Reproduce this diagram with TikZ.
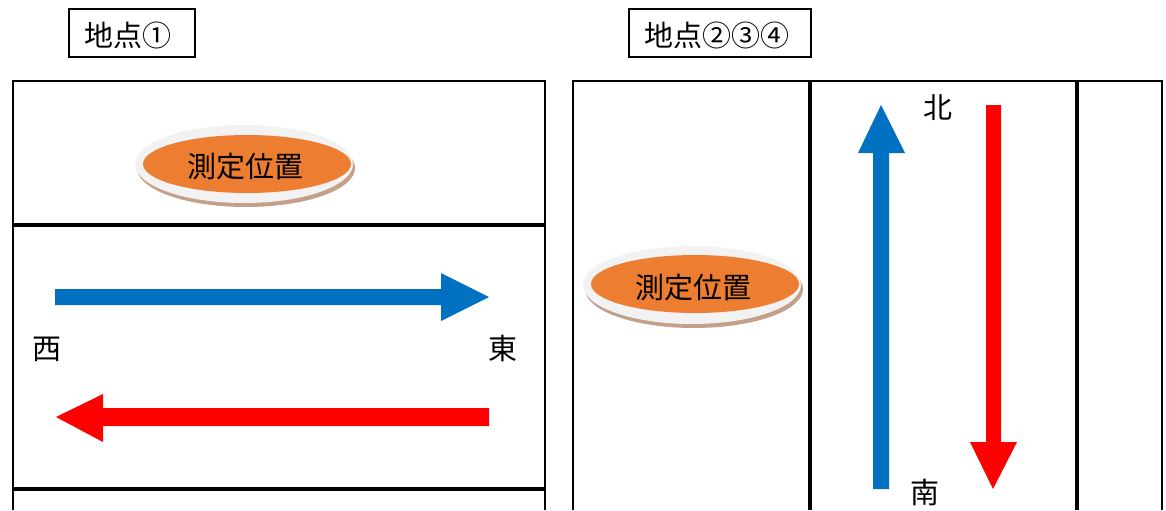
\documentclass[tikz,border=0pt]{standalone}
\usepackage{fontspec}
\setmainfont{Noto Sans CJK JP}
\definecolor{arrowblue}{HTML}{0070C0}
\definecolor{arroworange}{HTML}{ED7D31}
\definecolor{rimgrey}{HTML}{F2F2F2}
\definecolor{rimshadow}{HTML}{C4A08A}
\begin{document}
\begin{tikzpicture}[x=0.5pt,y=-0.5pt,
		thinline/.style={line width=1pt},
		thickline/.style={line width=2pt},
		titlebox/.style={draw,line width=1pt},
		label/.style={font=\fontsize{14.5}{16}\selectfont,inner sep=0pt}]
	\useasboundingbox (0,0) rectangle (1166,510);
	% titles
	\draw[titlebox] (69,9) rectangle (195,57);
	\node[label] (titleA) at (128,35) {地点①};
	\draw[titlebox] (629,9) rectangle (811,57);
	\node[label] (titleB) at (717,35) {地点②③④};
	% left road
	\draw[thinline] (13,510) -- (13,81) -- (545,81) -- (545,510);
	\draw[thickline] (13,225) -- (545,225);
	\draw[thickline] (13,489) -- (545,489);
	% right road
	\draw[thinline] (573,510) -- (573,81) -- (1162,81) -- (1162,510);
	\draw[thickline] (810,81) -- (810,510);
	\draw[thickline] (1077,81) -- (1077,510);
	% measuring spots
	\fill[rimshadow] (246,168) ellipse [x radius=109, y radius=39];
	\fill[rimgrey] (244,164) ellipse [x radius=109, y radius=39];
	\fill[arroworange] (247,164) ellipse [x radius=104, y radius=29];
	\node[label] (spotA) at (245,167) {測定位置};
	\fill[rimshadow] (694,289) ellipse [x radius=109, y radius=39];
	\fill[rimgrey] (692,285) ellipse [x radius=109, y radius=39];
	\fill[arroworange] (695,284) ellipse [x radius=104, y radius=29];
	\node[label] (spotB) at (693,288) {測定位置};
	% east-west arrows
	\fill[arrowblue] (55,289) -- (441,289) -- (441,273) -- (489,297) -- (441,321) -- (441,305) -- (55,305) -- cycle;
	\fill[red] (489,408) -- (103,408) -- (103,394) -- (56,417) -- (103,442) -- (103,426) -- (489,426) -- cycle;
	\node[label] (west) at (47,349) {西};
	\node[label] (east) at (503,348) {東};
	% north-south arrows
	\fill[arrowblue] (873,489) -- (873,153) -- (858,153) -- (881,105) -- (905,153) -- (889,153) -- (889,489) -- cycle;
	\fill[red] (986,105) -- (986,442) -- (970,442) -- (993,489) -- (1017,442) -- (1001,442) -- (1001,105) -- cycle;
	\node[label] (north) at (938,108) {北};
	\node[label] (south) at (925,492) {南};
\end{tikzpicture}
\end{document}
